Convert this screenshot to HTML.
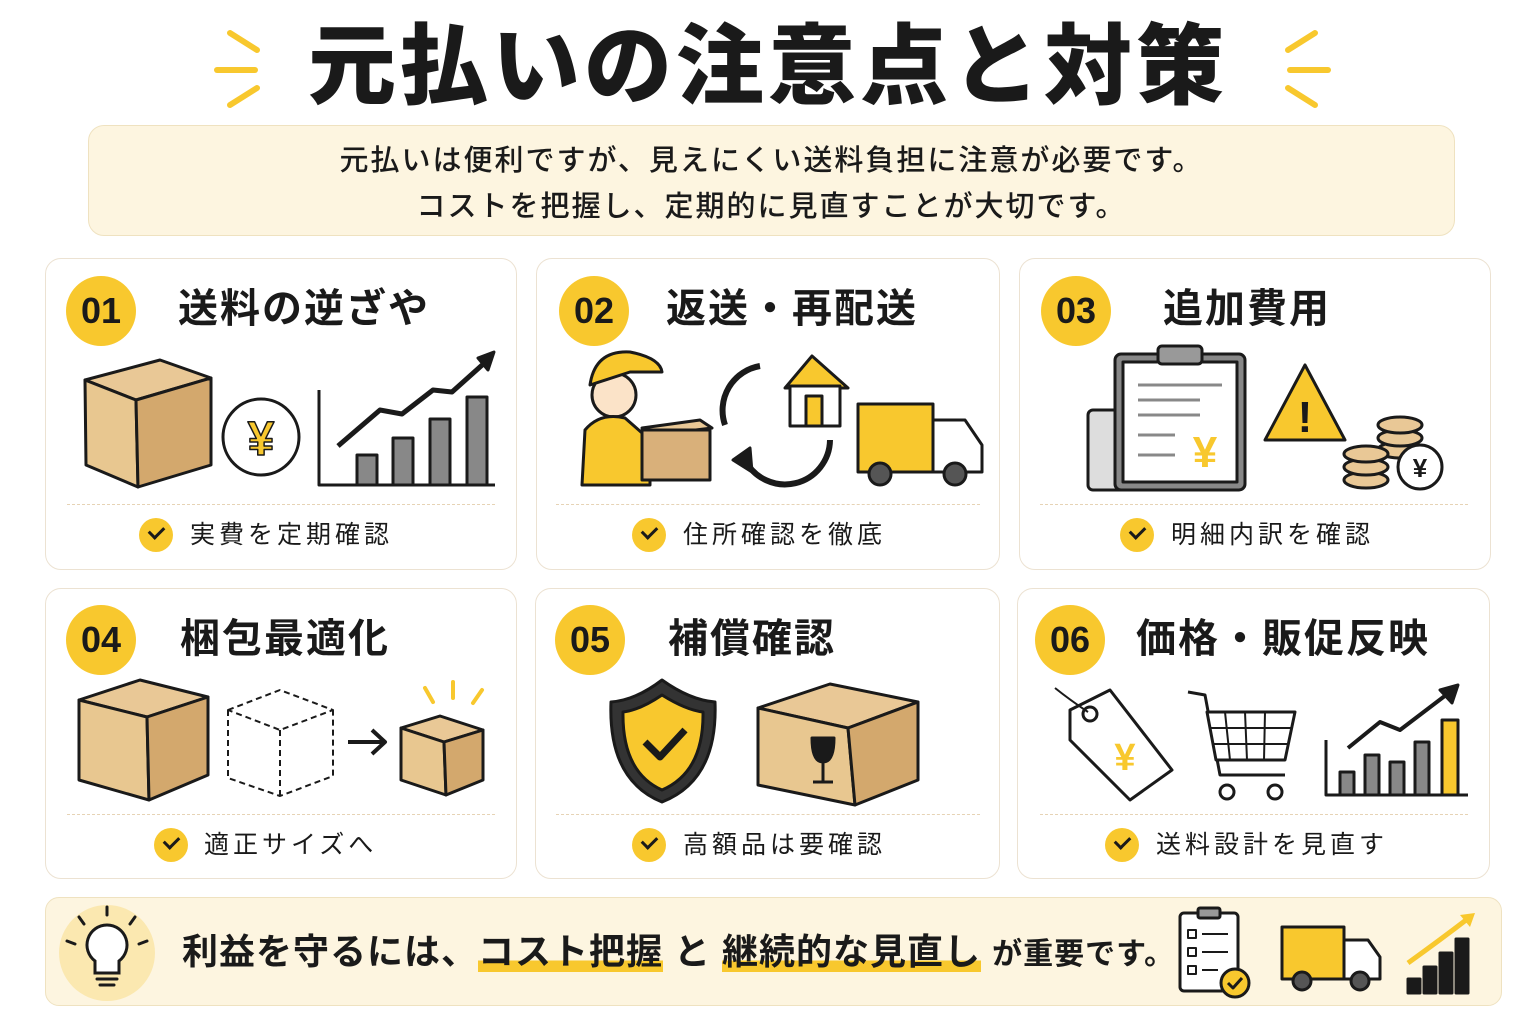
<!DOCTYPE html>
<html><head><meta charset="utf-8">
<style>
*{margin:0;padding:0;box-sizing:border-box}
body{width:1536px;height:1024px;background:#fff;position:relative;overflow:hidden;font-family:"Liberation Sans","Noto Sans CJK JP",sans-serif;color:#1a1a1a}
.abs{position:absolute}
.title{left:0;width:1536px;top:12px;text-align:center;font-size:88px;font-weight:900;letter-spacing:4px;line-height:110px}
.sub{left:88px;top:125px;width:1367px;height:111px;background:#fdf5e0;border:1.5px solid #efe2c0;border-radius:16px;text-align:center;font-size:29px;line-height:46px;padding-top:12px;letter-spacing:2px;font-weight:500}
.card{border:1.5px solid #ece2d2;border-radius:16px;background:#fff}
.badge{width:70px;height:70px;border-radius:50%;background:#f8c82e;font-size:36px;font-weight:bold;text-align:center;line-height:70px;font-family:"Liberation Sans",sans-serif}
.ct{font-size:40px;font-weight:bold;letter-spacing:2px;line-height:50px}
.dash{border-top:1.5px dashed #e6d3b5;height:0}
.chk{width:34px;height:34px;border-radius:50%;background:#f8c82e}
.chk:after{content:"";position:absolute;left:10px;top:8px;width:12px;height:7px;border-left:3px solid #1a1a1a;border-bottom:3px solid #1a1a1a;transform:rotate(-45deg)}
.ck{font-size:25px;letter-spacing:4px;line-height:34px}
.banner{left:45px;top:897px;width:1457px;height:109px;background:#fdf5e0;border:1.5px solid #efe2c0;border-radius:14px}
.hl{background:linear-gradient(transparent 72%,#f8c82e 72%)}
</style></head><body>

<div class="abs title">元払いの注意点と対策</div>
<svg class="abs" style="left:205px;top:25px" width="70" height="90"><g stroke="#f8c82e" stroke-width="6" stroke-linecap="round"><line x1="25" y1="8" x2="52" y2="25"/><line x1="12" y1="45" x2="50" y2="45"/><line x1="25" y1="80" x2="52" y2="63"/></g></svg>
<svg class="abs" style="left:1270px;top:25px" width="70" height="90"><g stroke="#f8c82e" stroke-width="6" stroke-linecap="round"><line x1="45" y1="8" x2="18" y2="25"/><line x1="58" y1="45" x2="20" y2="45"/><line x1="45" y1="80" x2="18" y2="63"/></g></svg>

<div class="abs sub">元払いは便利ですが、見えにくい送料負担に注意が必要です。<br>コストを把握し、定期的に見直すことが大切です。</div>

<div class="abs card" style="left:45px;top:258px;width:472px;height:312px"></div>
<div class="abs card" style="left:536px;top:258px;width:464px;height:312px"></div>
<div class="abs card" style="left:1019px;top:258px;width:472px;height:312px"></div>
<div class="abs card" style="left:45px;top:588px;width:472px;height:291px"></div>
<div class="abs card" style="left:535px;top:588px;width:465px;height:291px"></div>
<div class="abs card" style="left:1017px;top:588px;width:473px;height:291px"></div>

<div class="abs badge" style="left:66px;top:276px">01</div>
<div class="abs badge" style="left:559px;top:276px">02</div>
<div class="abs badge" style="left:1041px;top:276px">03</div>
<div class="abs badge" style="left:66px;top:605px">04</div>
<div class="abs badge" style="left:555px;top:605px">05</div>
<div class="abs badge" style="left:1035px;top:605px">06</div>

<div class="abs ct" style="left:178px;top:284px">送料の逆ざや</div>
<div class="abs ct" style="left:666px;top:284px">返送・再配送</div>
<div class="abs ct" style="left:1163px;top:284px">追加費用</div>
<div class="abs ct" style="left:180px;top:614px">梱包最適化</div>
<div class="abs ct" style="left:668px;top:614px">補償確認</div>
<div class="abs ct" style="left:1136px;top:614px">価格・販促反映</div>

<div class="abs dash" style="left:67px;top:504px;width:428px"></div>
<div class="abs dash" style="left:556px;top:504px;width:424px"></div>
<div class="abs dash" style="left:1040px;top:504px;width:428px"></div>
<div class="abs dash" style="left:67px;top:814px;width:428px"></div>
<div class="abs dash" style="left:556px;top:814px;width:424px"></div>
<div class="abs dash" style="left:1040px;top:814px;width:428px"></div>

<div class="abs chk" style="left:139px;top:518px"></div><div class="abs ck" style="left:190px;top:518px">実費を定期確認</div>
<div class="abs chk" style="left:632px;top:518px"></div><div class="abs ck" style="left:683px;top:518px">住所確認を徹底</div>
<div class="abs chk" style="left:1120px;top:518px"></div><div class="abs ck" style="left:1171px;top:518px">明細内訳を確認</div>
<div class="abs chk" style="left:154px;top:828px"></div><div class="abs ck" style="left:204px;top:828px">適正サイズへ</div>
<div class="abs chk" style="left:632px;top:828px"></div><div class="abs ck" style="left:683px;top:828px">高額品は要確認</div>
<div class="abs chk" style="left:1105px;top:828px"></div><div class="abs ck" style="left:1156px;top:828px">送料設計を見直す</div>

<svg class="abs" style="left:0;top:0" width="1536" height="1024">
<g stroke="#1a1a1a" stroke-width="3" stroke-linejoin="round">
<polygon points="85,380 160,360 211,378 136,400" fill="#e9c896"/>
<polygon points="85,380 136,400 138,487 86,465" fill="#e8c790"/>
<polygon points="136,400 211,378 211,465 138,487" fill="#d3a86d"/>
<circle cx="261" cy="437" r="38" fill="#fff"/>
<text x="261" y="455" font-size="48" font-weight="bold" text-anchor="middle" fill="#f8c82e" stroke="#1a1a1a" stroke-width="1.5" font-family="Liberation Sans">¥</text>
<polyline points="319,390 319,485 495,485" fill="none"/>
<rect x="357" y="455" width="20" height="30" fill="#888"/><rect x="393" y="438" width="20" height="47" fill="#888"/><rect x="430" y="419" width="20" height="66" fill="#888"/><rect x="467" y="397" width="20" height="88" fill="#888"/>
<polyline points="338,446 380,410 402,414 433,390 452,392 490,358" fill="none" stroke-width="5"/>
<polygon points="478,358 494,352 488,370" fill="#1a1a1a"/>
<circle cx="614" cy="395" r="22" fill="#fbe3c8"/>
<path d="M590 385 Q595 350 630 352 Q660 358 662 372 L630 372 Z" fill="#f8c82e"/>
<path d="M582 485 L585 430 Q600 412 625 418 L650 440 L650 485 Z" fill="#f8c82e"/>
<polygon points="642,428 700,420 712,428 655,435" fill="#e9c896"/>
<rect x="642" y="430" width="68" height="50" fill="#d9b07a"/>
<path d="M760 366 A45 45 0 0 0 725 425" fill="none" stroke-width="6"/>
<path d="M830 440 A45 45 0 0 1 745 460" fill="none" stroke-width="6"/>
<polygon points="733,460 750,448 752,472" fill="#1a1a1a"/>
<polygon points="785,388 812,356 848,388" fill="#f8c82e"/>
<rect x="790" y="386" width="50" height="40" fill="#fff"/><rect x="806" y="396" width="16" height="30" fill="#f8c82e"/>
<rect x="858" y="404" width="75" height="68" fill="#f8c82e"/>
<path d="M933 420 L965 420 L982 445 L982 472 L933 472 Z" fill="#fff"/>
<circle cx="880" cy="474" r="11" fill="#555"/><circle cx="955" cy="474" r="11" fill="#555"/>
<rect x="1088" y="410" width="40" height="80" rx="5" fill="#ddd"/>
<rect x="1115" y="354" width="130" height="136" rx="6" fill="#888"/>
<rect x="1123" y="362" width="114" height="120" fill="#fff"/>
<rect x="1158" y="346" width="44" height="18" rx="4" fill="#999"/>
<g stroke="#888"><line x1="1138" y1="385" x2="1222" y2="385"/><line x1="1138" y1="400" x2="1200" y2="400"/><line x1="1138" y1="415" x2="1200" y2="415"/><line x1="1138" y1="435" x2="1175" y2="435"/><line x1="1138" y1="455" x2="1175" y2="455"/></g>
<text x="1205" y="467" font-size="44" font-weight="bold" fill="#f8c82e" stroke="none" text-anchor="middle" font-family="Liberation Sans">¥</text>
<polygon points="1305,365 1345,440 1265,440" fill="#f8c82e"/>
<text x="1305" y="432" font-size="44" font-weight="bold" stroke="none" fill="#1a1a1a" text-anchor="middle" font-family="Liberation Sans">!</text>
<g fill="#e9c896"><ellipse cx="1400" cy="450" rx="22" ry="8"/><ellipse cx="1400" cy="438" rx="22" ry="8"/><ellipse cx="1400" cy="425" rx="22" ry="8"/><ellipse cx="1366" cy="480" rx="22" ry="8"/><ellipse cx="1366" cy="467" rx="22" ry="8"/><ellipse cx="1366" cy="454" rx="22" ry="8"/></g>
<circle cx="1420" cy="467" r="22" fill="#fff"/>
<text x="1420" y="477" font-size="26" font-weight="bold" stroke="none" fill="#1a1a1a" text-anchor="middle" font-family="Liberation Sans">¥</text>
<polygon points="79,700 140,680 208,697 147,717" fill="#e9c896"/>
<polygon points="79,700 147,717 149,800 79,780" fill="#e8c790"/>
<polygon points="147,717 208,697 208,775 149,800" fill="#d3a86d"/>
<g fill="none" stroke-dasharray="6 4" stroke-width="2"><polygon points="228,710 280,690 333,710 280,730"/><polyline points="228,710 228,778 280,796 333,776 333,710"/><line x1="280" y1="730" x2="280" y2="796"/></g>
<line x1="348" y1="742" x2="382" y2="742" stroke-width="4"/><polyline points="372,730 385,742 372,754" fill="none" stroke-width="4"/>
<polygon points="401,728 440,716 483,730 444,742" fill="#e9c896"/>
<polygon points="401,728 444,742 446,795 401,780" fill="#e8c790"/>
<polygon points="444,742 483,730 483,780 446,795" fill="#d3a86d"/>
<g stroke="#f8c82e" stroke-width="4" stroke-linecap="round"><line x1="425" y1="688" x2="433" y2="702"/><line x1="453" y1="682" x2="453" y2="698"/><line x1="482" y1="690" x2="473" y2="703"/></g>
<path d="M662 680 Q690 700 715 702 Q718 780 662 802 Q608 780 611 702 Q636 700 662 680 Z" fill="#333"/>
<path d="M662 695 Q686 710 703 712 Q704 772 662 790 Q622 772 623 712 Q640 710 662 695 Z" fill="#f8c82e"/>
<polyline points="645,742 660,757 685,730" fill="none" stroke-width="7"/>
<polygon points="758,708 830,684 918,702 848,728" fill="#e9c896"/>
<polygon points="758,708 848,728 855,805 758,785" fill="#e8c790"/>
<polygon points="848,728 918,702 918,780 855,805" fill="#d3a86d"/>
<path d="M812 738 L834 738 Q834 762 823 762 Q812 762 812 738Z" fill="#1a1a1a"/><line x1="823" y1="762" x2="823" y2="782"/><line x1="813" y1="782" x2="833" y2="782"/>
<polygon points="1070,710 1110,690 1172,770 1130,800 1070,740" fill="#fff"/>
<circle cx="1090" cy="714" r="7" fill="#fff"/>
<path d="M1055 688 Q1070 700 1088 712" fill="none" stroke-width="2"/>
<text x="1125" y="770" font-size="38" font-weight="bold" stroke="none" fill="#f8c82e" text-anchor="middle" font-family="Liberation Sans">¥</text>
<polyline points="1188,692 1205,695 1220,775 1285,775" fill="none"/>
<polygon points="1207,712 1295,712 1285,760 1216,760" fill="#fff"/>
<g stroke-width="2"><line x1="1225" y1="712" x2="1230" y2="760"/><line x1="1245" y1="712" x2="1247" y2="760"/><line x1="1265" y1="712" x2="1264" y2="760"/><line x1="1209" y1="728" x2="1292" y2="728"/><line x1="1212" y1="744" x2="1289" y2="744"/></g>
<circle cx="1227" cy="792" r="7" fill="#fff"/><circle cx="1275" cy="792" r="7" fill="#fff"/>
<polyline points="1326,740 1326,795 1468,795" fill="none"/>
<rect x="1340" y="772" width="14" height="23" fill="#888"/><rect x="1365" y="755" width="14" height="40" fill="#888"/><rect x="1390" y="762" width="14" height="33" fill="#888"/><rect x="1415" y="742" width="14" height="53" fill="#888"/><rect x="1442" y="720" width="16" height="75" fill="#f8c82e"/>
<polyline points="1348,748 1380,722 1400,730 1450,692" fill="none" stroke-width="4"/>
<polygon points="1440,690 1458,685 1452,703" fill="#1a1a1a"/>
</g>
</svg>

<div class="abs banner"></div>
<svg class="abs" style="left:55px;top:903px" width="105" height="100">
<circle cx="52" cy="50" r="48" fill="#fbe8b0"/>
<g stroke="#1a1a1a" stroke-width="3" fill="none" stroke-linecap="round">
<path d="M52 22 A20 20 0 0 1 64 58 L64 70 L40 70 L40 58 A20 20 0 0 1 52 22Z" fill="#fff"/>
<line x1="42" y1="76" x2="62" y2="76"/><line x1="45" y1="82" x2="59" y2="82"/>
<line x1="52" y1="4" x2="52" y2="12"/><line x1="24" y1="14" x2="29" y2="21"/><line x1="80" y1="14" x2="75" y2="21"/><line x1="12" y1="38" x2="20" y2="41"/><line x1="92" y1="38" x2="84" y2="41"/>
</g></svg>
<div class="abs" style="left:182px;top:928px;font-size:36px;font-weight:bold;letter-spacing:1px;line-height:48px;white-space:nowrap">利益を守るには、<span class="hl">コスト把握</span> と <span class="hl">継続的な見直し</span> <span style="font-size:30px">が重要です。</span></div>
<svg class="abs" style="left:1170px;top:905px" width="320" height="95">
<g stroke="#1a1a1a" stroke-width="3" stroke-linejoin="round">
<rect x="10" y="8" width="58" height="78" rx="4" fill="#fff"/><rect x="28" y="3" width="22" height="10" rx="2" fill="#999"/>
<g stroke-width="2"><rect x="18" y="25" width="8" height="8" fill="#fff"/><line x1="32" y1="29" x2="58" y2="29"/><rect x="18" y="43" width="8" height="8" fill="#fff"/><line x1="32" y1="47" x2="58" y2="47"/><rect x="18" y="61" width="8" height="8" fill="#fff"/><line x1="32" y1="65" x2="48" y2="65"/></g>
<circle cx="65" cy="78" r="14" fill="#f8c82e"/><polyline points="58,78 63,83 72,73" fill="none"/>
<rect x="112" y="22" width="62" height="52" fill="#f8c82e"/>
<path d="M174 35 L198 35 L210 52 L210 74 L174 74Z" fill="#fff"/>
<circle cx="132" cy="76" r="9" fill="#555"/><circle cx="190" cy="76" r="9" fill="#555"/>
<rect x="238" y="74" width="12" height="14" fill="#1a1a1a"/><rect x="254" y="62" width="12" height="26" fill="#1a1a1a"/><rect x="270" y="48" width="12" height="40" fill="#1a1a1a"/><rect x="286" y="34" width="12" height="54" fill="#1a1a1a"/>
<path d="M238 58 Q270 35 300 12" fill="none" stroke="#f8c82e" stroke-width="5"/>
<polygon points="290,10 305,8 300,22" fill="#f8c82e" stroke="none"/>
</g></svg>
</body></html>
